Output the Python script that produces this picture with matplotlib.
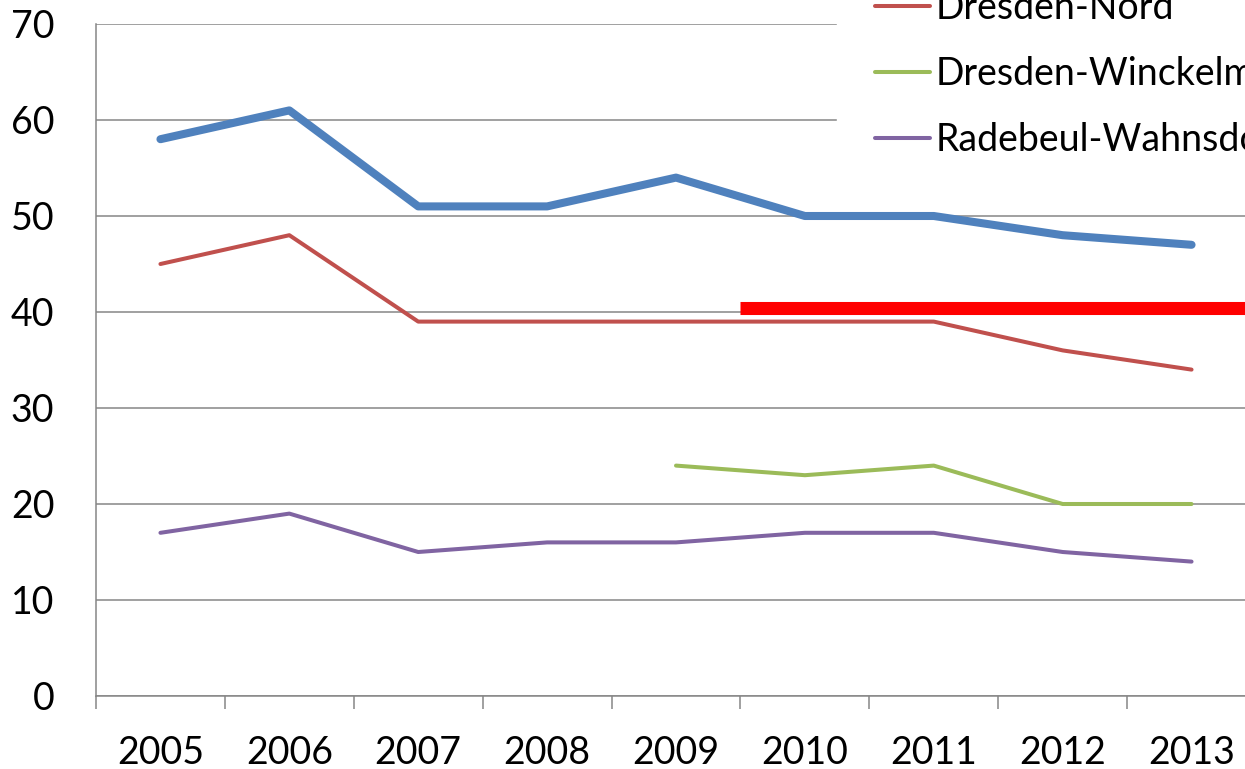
import numpy as np
import matplotlib
matplotlib.use("Agg")
import matplotlib.pyplot as plt

years = ["2005", "2006", "2007", "2008", "2009", "2010", "2011", "2012", "2013"]
dresden_berg = [58, 61, 51, 51, 54, 50, 50, 48, 47]
dresden_nord = [45, 48, 39, 39, 39, 39, 39, 36, 34]
dresden_winckel = [np.nan, np.nan, np.nan, np.nan, 24, 23, 24, 20, 20]
radebeul = [17, 19, 15, 16, 16, 17, 17, 15, 14]
limit_value = 40.4

plt.rcParams['font.family'] = ['Lato', 'DejaVu Sans']
grey = '#868686'

fig = plt.figure(figsize=(12.45, 7.69), dpi=100)
ax = fig.add_axes([96/1245, 73/769, 1160/1245, 672/769])

x = np.arange(len(years))
ax.plot(x, dresden_berg, color='#4F81BD', lw=5.8, solid_capstyle='round',
        solid_joinstyle='round', label='Dresden-Bergstraße', zorder=4)
ax.plot(x, dresden_nord, color='#C0504D', lw=2.9, solid_capstyle='round',
        label='Dresden-Nord', zorder=4)
ax.plot(x, dresden_winckel, color='#9BBB59', lw=2.9, solid_capstyle='round',
        label='Dresden-Winckelmannstraße', zorder=4)
ax.plot(x, radebeul, color='#8064A2', lw=2.9, solid_capstyle='round',
        label='Radebeul-Wahnsdorf', zorder=4)

# limit line
ax.plot([4.5, len(years) - 0.5], [limit_value, limit_value], color='#FF0000',
        lw=9.4, solid_capstyle='butt', zorder=5)

ax.set_xlim(-0.5, len(years) - 0.5)
ax.set_ylim(0, 70)
ax.set_yticks(range(0, 71, 10))
ax.yaxis.grid(True, color=grey, lw=1.1)
ax.set_axisbelow(True)
ax.tick_params(axis='y', length=0, pad=30, labelsize=27)

ax.set_xticks(np.arange(-0.5, len(years), 1))
ax.set_xticklabels([])
ax.set_xticks(x, minor=True)
ax.set_xticklabels(years, minor=True)
ax.tick_params(axis='x', which='major', length=9, width=1.1, color=grey)
ax.tick_params(axis='x', which='minor', length=0, pad=28, labelsize=27)

for s in ['top', 'right']:
    ax.spines[s].set_visible(False)
for s in ['left', 'bottom']:
    ax.spines[s].set_color(grey)
    ax.spines[s].set_linewidth(1.1)

leg = fig.legend(loc='upper left', bbox_to_anchor=(837/1245, 1.148), fontsize=27,
                 frameon=True, fancybox=False, edgecolor='white', framealpha=1,
                 borderaxespad=0, borderpad=1.0, handlelength=1.47,
                 handletextpad=0.15, labelspacing=0.8)
for h in leg.get_lines():
    h.set_linewidth(2.9)
    h.set_solid_capstyle('round')

fig.savefig('out.png', dpi=100)
